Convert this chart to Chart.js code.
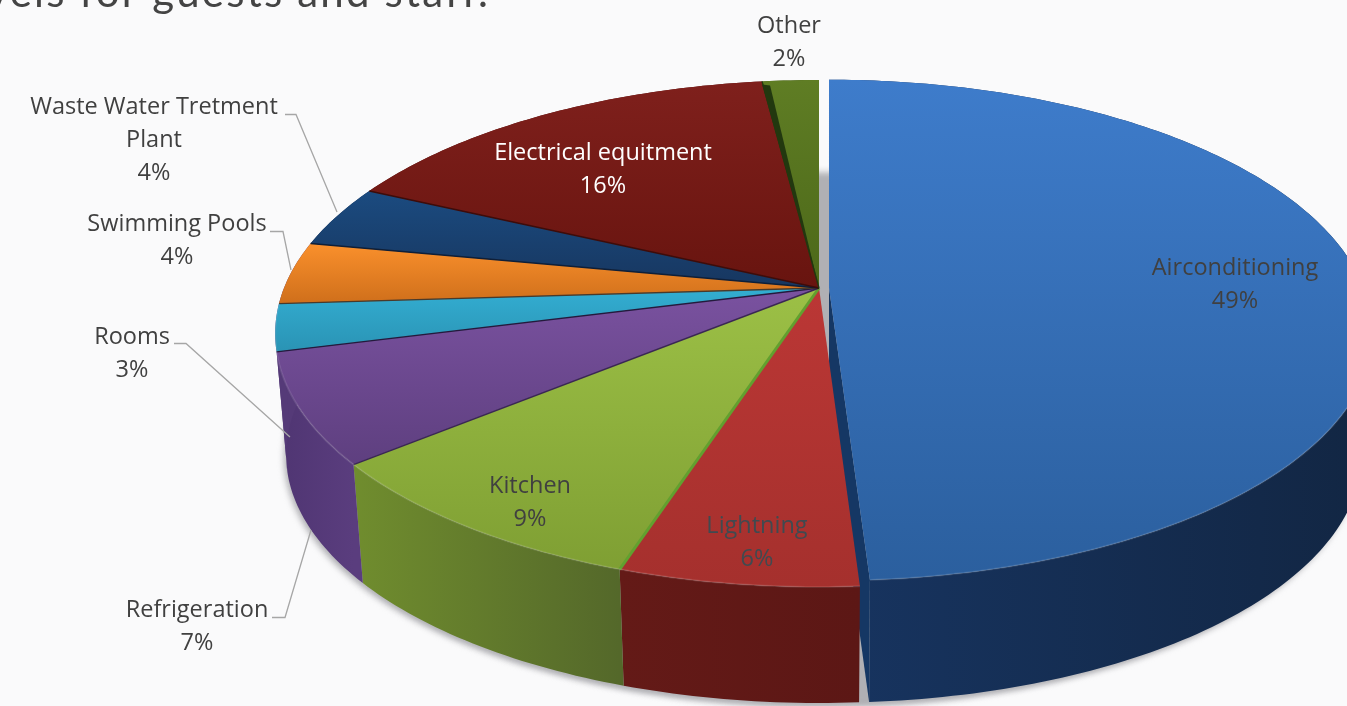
<!DOCTYPE html>
<html>
<head>
<meta charset="utf-8">
<style>
  html, body { margin: 0; padding: 0; background: #fafafb; overflow: hidden; }
  canvas { display: block; }
</style>
<script src="https://cdn.jsdelivr.net/npm/chart.js@4/dist/chart.umd.min.js"></script>
</head>
<body>
<canvas id="chart" width="1347" height="706"></canvas>
<script>
const categories = ['Airconditioning', 'Lightning', 'Kitchen', 'Refrigeration', 'Rooms', 'Swimming Pools', 'Waste Water Tretment Plant', 'Electrical equitment', 'Other'];
const shares = [49, 6, 9, 7, 3, 4, 4, 16, 2];
const offsets = [10, 0, 0, 0, 0, 0, 0, 0, 0];

// top face gradient, side wall gradient, seam colour
const topColors = [['#3e7ccb', '#2b5f9e'], ['#bb3735', '#a5302d'], ['#9cc046', '#7f9f33'], ['#7a52a0', '#5e3f7f'], ['#33aed2', '#2a93b4'], ['#fa902c', '#cf6f1b'], ['#1b4b80', '#17365f'], ['#7f201c', '#68140f'], ['#5f7d24', '#4c6819']];
const sideColors = [['#173460', '#122643'], ['#641a17', '#5c1715'], ['#708d2e', '#54682a'], ['#4f3572', '#5a3d7e'], ['#553a78', '#553a78'], ['#553a78', '#553a78'], ['#14294a', '#14294a'], ['#541210', '#541210'], ['#3b4f14', '#3b4f14']];
const seamColors = ['#17365f', '#62a02f', '#3a2753', '#241a3d', '#4a3a2a', '#0f1f38', '#3d0c0a', '#22380f', '#22380f'];

// text lines, centre x, first line y, colour
const labelLines = [['Airconditioning'], ['Lightning'], ['Kitchen'], ['Refrigeration'], ['Rooms'], ['Swimming Pools'], ['Waste Water Tretment', 'Plant'], ['Electrical equitment'], ['Other']];
const labelX = [1235, 757, 530, 197, 132, 177, 154, 603, 789];
const labelY = [267, 525, 485, 609, 336, 223, 106, 152, 25];
const labelColors = ['#404040', '#404a50', '#404040', '#404040', '#404040', '#404040', '#404040', '#ffffff', '#404040'];
const leaders = [
  [[285, 114.5], [296, 114.5], [337, 212]],
  [[270, 231.5], [283, 231.5], [291, 270]],
  [[174, 343.5], [186, 343.5], [290, 437]],
  [[272, 617.5], [285, 617.5], [311, 530]]
];

// perspective disc: level 0 is the top face, level 1 the bottom face
const disc = { cx: 819, cy: [288, 410], ax: 535, ay: 245.3, k: 0.1795, scale: [1, 0.98] };

function project(angle, level, el) {
  const X = Math.cos(angle), Y = Math.sin(angle);
  const d = 1 - disc.k * Y;
  const s = disc.scale[level];
  const mid = (el.startAngle + el.endAngle) / 2;
  const off = el.options.offset;
  // the exploded slice sits a little flatter at its front edge
  const ay = off && !level && Y > 0 ? disc.ay * 0.98 : disc.ay;
  return [disc.cx + off * Math.cos(mid) + s * disc.ax * X / d, disc.cy[level] + off * Math.sin(mid) + s * ay * Y / d];
}

function apex(level, el) {
  const mid = (el.startAngle + el.endAngle) / 2;
  const off = el.options.offset;
  return [disc.cx + off * Math.cos(mid), disc.cy[level] + off * Math.sin(mid)];
}

function rimPoints(el, level) {
  const pts = [];
  const n = Math.max(8, Math.ceil((el.endAngle - el.startAngle) * 60));
  for (let i = 0; i <= n; i++) {
    pts.push(project(el.startAngle + (el.endAngle - el.startAngle) * i / n, level, el));
  }
  return pts;
}

function tracePath(ctx, pts) {
  ctx.beginPath();
  pts.forEach((p, i) => i ? ctx.lineTo(p[0], p[1]) : ctx.moveTo(p[0], p[1]));
  ctx.closePath();
}

function drawShadow(ctx, arcs) {
  // whole disc, closed across the gap of the exploded slice
  let ring = [];
  arcs.forEach(el => {
    ring = ring.concat(rimPoints({ startAngle: el.startAngle, endAngle: el.endAngle, options: { offset: 0 } }, 1));
  });
  ctx.save();
  ctx.filter = 'blur(3px)';
  ctx.fillStyle = '#b0b0b4';
  tracePath(ctx, ring.map(p => [p[0] - 2, p[1] + 3]));
  ctx.fill();
  tracePath(ctx, ring.map(p => [p[0] + 6, p[1] + 3]));
  ctx.fill();
  tracePath(ctx, ring.map(p => [p[0], p[1] - 34]));
  ctx.fill();
  ctx.restore();
}

function drawWalls(ctx, arcs) {
  arcs.forEach((el, i) => {
    const top = rimPoints(el, 0), bottom = rimPoints(el, 1);
    const xs = top.map(p => p[0]);
    const grad = ctx.createLinearGradient(Math.min(...xs), 0, Math.max(...xs), 0);
    grad.addColorStop(0, sideColors[i][0]);
    grad.addColorStop(1, sideColors[i][1]);
    ctx.fillStyle = grad;
    tracePath(ctx, top.concat(bottom.slice().reverse()));
    ctx.fill();
    if (el.options.offset) {
      // cut face of the exploded slice
      ctx.fillStyle = '#153764';
      tracePath(ctx, [apex(0, el), top[top.length - 1], bottom[bottom.length - 1], apex(1, el)]);
      ctx.fill();
    }
  });
}

function drawTops(ctx, arcs) {
  arcs.forEach((el, i) => {
    const rim = rimPoints(el, 0);
    const ys = rim.map(p => p[1]).concat(apex(0, el)[1]);
    const grad = ctx.createLinearGradient(0, Math.min(...ys), 0, Math.max(...ys));
    grad.addColorStop(0, topColors[i][0]);
    grad.addColorStop(1, topColors[i][1]);
    ctx.fillStyle = grad;
    tracePath(ctx, [apex(0, el)].concat(rim));
    ctx.fill();
  });
  // seams between neighbours
  arcs.forEach((el, i) => {
    if (el.options.offset || i === arcs.length - 1) return;
    const p = project(el.endAngle, 0, el);
    const a = apex(0, el);
    ctx.strokeStyle = seamColors[i];
    ctx.lineWidth = i === 1 ? 3 : 1.4;
    ctx.beginPath();
    ctx.moveTo(a[0], a[1]);
    ctx.lineTo(p[0], p[1]);
    ctx.stroke();
  });
  // dark sliver on the left of the last slice
  const last = arcs[arcs.length - 1];
  const a = apex(0, last), p = project(last.startAngle, 0, last);
  ctx.fillStyle = '#22380f';
  tracePath(ctx, [a, [p[0], p[1] + 3], [p[0] + 8, p[1] + 4]]);
  ctx.fill();
  // soft highlight on the front rim
  ctx.strokeStyle = 'rgba(255,255,255,0.1)';
  ctx.lineWidth = 2;
  arcs.forEach(el => {
    const rim = rimPoints(el, 0).filter(q => q[1] > 300);
    ctx.beginPath();
    rim.forEach((q, n) => n ? ctx.lineTo(q[0], q[1]) : ctx.moveTo(q[0], q[1]));
    ctx.stroke();
  });
}

const pie3d = {
  id: 'pie3d',
  beforeDatasetDraw(chart) {
    const ctx = chart.ctx;
    const arcs = chart.getDatasetMeta(0).data;
    drawShadow(ctx, arcs);
    drawWalls(ctx, arcs);
    drawTops(ctx, arcs);
    return false;
  },
  afterDraw(chart) {
    const ctx = chart.ctx;
    ctx.save();
    // cut-off heading of the page behind the chart
    ctx.font = '400 42px "Lato"';
    ctx.letterSpacing = '2.2px';
    ctx.fillStyle = '#444444';
    ctx.textAlign = 'right';
    ctx.textBaseline = 'alphabetic';
    ctx.fillText('levels for guests and staff.', 490, 7);
    ctx.letterSpacing = '0px';

    ctx.strokeStyle = '#a6a6a6';
    ctx.lineWidth = 1.3;
    leaders.forEach(line => {
      ctx.beginPath();
      line.forEach((p, i) => i ? ctx.lineTo(p[0], p[1]) : ctx.moveTo(p[0], p[1]));
      ctx.stroke();
    });

    ctx.font = '23.5px "Open Sans"';
    ctx.textAlign = 'center';
    ctx.textBaseline = 'middle';
    categories.forEach((name, i) => {
      const lines = labelLines[i].concat(shares[i] + '%');
      ctx.fillStyle = labelColors[i];
      lines.forEach((t, n) => ctx.fillText(t, labelX[i], labelY[i] + 1 + n * 33));
    });
    ctx.restore();
  }
};

new Chart(document.getElementById('chart').getContext('2d'), {
  type: 'pie',
  data: {
    labels: categories,
    datasets: [{ data: shares, offset: offsets, backgroundColor: topColors.map(c => c[0]), borderWidth: 0 }]
  },
  options: {
    responsive: false,
    animation: false,
    plugins: { legend: { display: false }, tooltip: { enabled: false } }
  },
  plugins: [pie3d]
});
</script>
</body>
</html>
